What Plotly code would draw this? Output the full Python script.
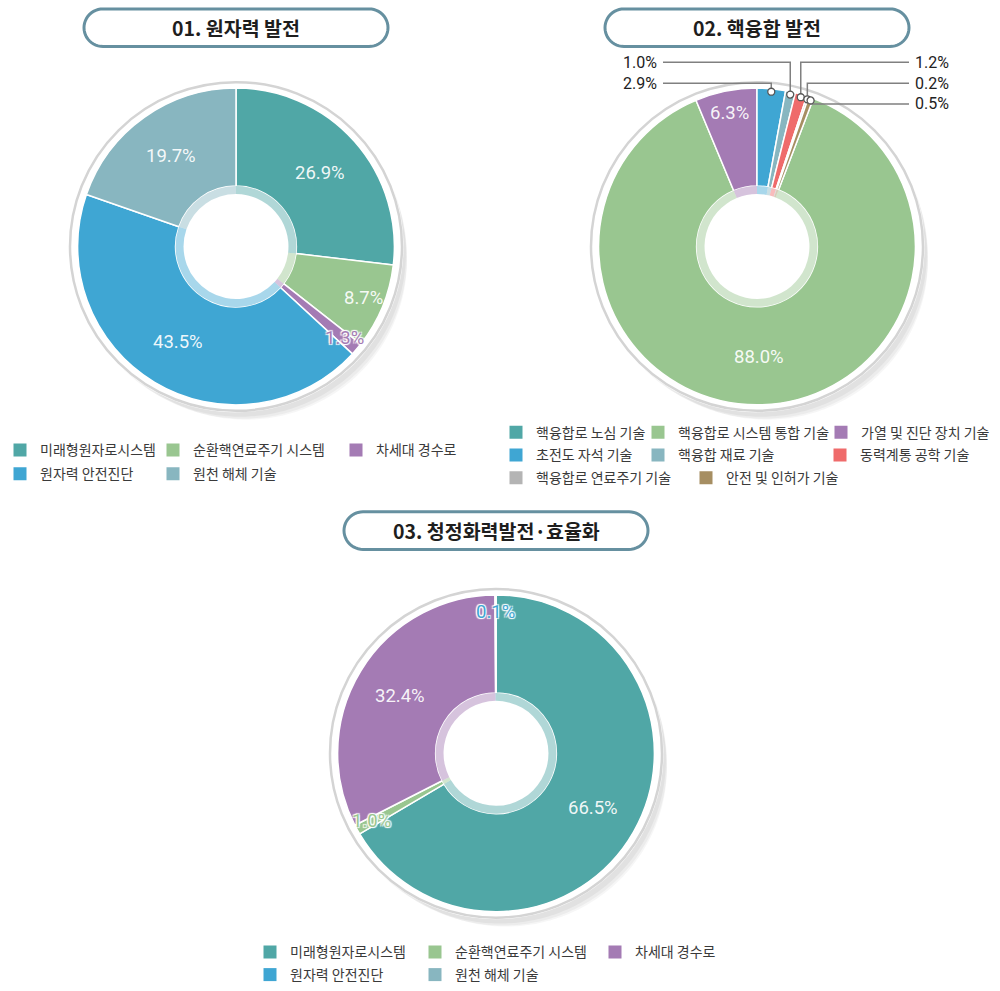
import math

import plotly.graph_objects as go

# ---------------- data ----------------
nuclear_labels = ["미래형원자로시스템", "순환핵연료주기 시스템", "차세대 경수로", "원자력 안전진단", "원천 해체 기술"]
nuclear_share = [26.9, 8.7, 1.3, 43.5, 19.7]

fusion_labels = [
    "핵융합로 노심 기술", "핵융합로 시스템 통합 기술", "가열 및 진단 장치 기술", "초전도 자석 기술",
    "핵융합 재료 기술", "동력계통 공학 기술", "핵융합로 연료주기 기술", "안전 및 인허가 기술",
]
fusion_share = [0.0, 88.0, 6.3, 2.9, 1.0, 1.2, 0.2, 0.5]

thermal_labels = ["미래형원자로시스템", "순환핵연료주기 시스템", "차세대 경수로", "원자력 안전진단", "원천 해체 기술"]
thermal_share = [66.5, 1.0, 32.4, 0.1, 0.0]

titles = ["01. 원자력 발전", "02. 핵융합 발전", "03. 청정화력발전·효율화"]

# ---------------- style ----------------
W, H = 1000, 991
KR = "Noto Sans CJK KR, Noto Sans, sans-serif"
NUM = "Roboto, Liberation Sans, Arial, sans-serif"
PALETTE = ["#50A7A6", "#99C690", "#A47BB4", "#3FA6D3", "#88B6C0", "#EF6B6B", "#B4B4B4", "#A68E62"]
HALO = "1px 1px 1px #fff, -1px -1px 1px #fff, 1px -1px 1px #fff, -1px 1px 1px #fff"

R_OUT, R_RING, R_HOLE, R_FRAME = 160, 61, 53, 166
LEG_TEXT_OFFSET = 42   # legend left edge -> first label text
LEG_Y_SHIFT = 4
LEADER_Y0, LEADER_STEP = 63, 21

charts = [
    dict(title=titles[0], labels=nuclear_labels, values=nuclear_share, cx=236, cy=249, top=None,
         rows=[[0, 1, 2], [3, 4]], row_x=[32, 195, 378], row_y=[451, 475], leaders=False, ty=28),
    dict(title=titles[1], labels=fusion_labels, values=fusion_share, cx=757, cy=249, top="초전도 자석 기술",
         rows=[[0, 1, 2], [3, 4, 5], [6, 7]], row_x=[[538, 680, 863], [538, 680, 862], [538, 728]],
         row_y=[433, 456, 479], leaders=True, ty=28),
    dict(title=titles[2], labels=thermal_labels, values=thermal_share, cx=496, cy=761, top=None,
         rows=[[0, 1, 2], [3, 4]], row_x=[292, 457, 637], row_y=[958, 981], leaders=False, ty=536),
]
LEFT_LEADERS = ["초전도 자석 기술", "핵융합 재료 기술"]


def px(x):
    return x / W


def py(y):
    return 1 - y / H


def dom(cx, cy, r):
    return dict(x=[px(cx - r), px(cx + r)], y=[py(cy + r), py(cy - r)])


def rgba(hex_color, a):
    h = hex_color.lstrip("#")
    return f"rgba({int(h[0:2], 16)},{int(h[2:4], 16)},{int(h[4:6], 16)},{a})"


def polar(cx, cy, r, deg):
    t = math.radians(deg)
    return cx + r * math.sin(t), cy - r * math.cos(t)


def crescent(cx, cy, r1, ox, oy, r2):
    """Area inside the shifted circle but outside the base circle (soft drop shadow)."""
    outer = []
    for k in range(360):
        x, y = polar(cx + ox, cy + oy, r2, k)
        if math.hypot(x - cx, y - cy) > r1:
            outer.append((k, x, y))
    ks = [k for k, _, _ in outer]
    gap = max(range(len(ks)), key=lambda i: (ks[i] - ks[i - 1]) % 360)
    outer = outer[gap:] + outer[:gap]
    a_start = math.degrees(math.atan2(outer[0][1] - cx, -(outer[0][2] - cy)))
    a_end = math.degrees(math.atan2(outer[-1][1] - cx, -(outer[-1][2] - cy)))
    if a_end < a_start:
        a_end += 360
    inner = [polar(cx, cy, r1, a_end - (a_end - a_start) * i / 40) for i in range(41)]
    pts = [(x, y) for _, x, y in outer] + inner
    return "M " + " L ".join(f"{px(x):.5f},{py(y):.5f}" for x, y in pts) + " Z"


fig = go.Figure()
shapes, annos = [], []
legend_no = 0

for ch in charts:
    labels, values, cx, cy = ch["labels"], ch["values"], ch["cx"], ch["cy"]
    colors = PALETTE[: len(labels)]
    total = sum(values)
    rot = 0.0
    if ch["top"]:
        rot = 360 * (1 - sum(values[: labels.index(ch["top"])]) / total)

    fig.add_trace(go.Pie(
        labels=labels, values=values, sort=False, direction="clockwise", rotation=rot,
        hole=R_RING / R_OUT, domain=dom(cx, cy, R_OUT), textinfo="none",
        marker=dict(colors=colors, line=dict(color="white", width=1.5)),
        hovertemplate="%{label}: %{value}%<extra></extra>", showlegend=False,
    ))
    fig.add_trace(go.Pie(
        labels=labels, values=values, sort=False, direction="clockwise", rotation=rot,
        hole=R_HOLE / R_RING, domain=dom(cx, cy, R_RING), textinfo="none",
        marker=dict(colors=[rgba(c, 0.45) for c in colors], line=dict(width=0)),
        hoverinfo="skip", showlegend=False,
    ))

    # soft shadow + outer thin frame
    for ox, oy, dr, a in ((4, 6, 0, 0.045), (7, 10, -2, 0.04), (10, 14, -5, 0.035)):
        shapes.append(dict(type="path", xref="paper", yref="paper", layer="below",
                           path=crescent(cx, cy, R_FRAME + 1.5, ox, oy, R_FRAME + dr),
                           fillcolor=f"rgba(0,0,0,{a})", line=dict(width=0)))
    shapes.append(dict(type="circle", xref="paper", yref="paper", layer="below",
                       x0=px(cx - R_FRAME), x1=px(cx + R_FRAME), y0=py(cy + R_FRAME), y1=py(cy - R_FRAME),
                       line=dict(color="#D4D4D4", width=2.5), fillcolor="rgba(0,0,0,0)"))

    # slice labels
    cum = 0.0
    left_slot, right_slot = [], []
    for lab, v, c in zip(labels, values, colors):
        mid = rot + (cum + v / 2) / total * 360
        cum += v
        if v <= 0:
            continue
        if ch["leaders"] and v < 3:
            dx, dy = polar(cx, cy, R_OUT - 3, mid)
            (left_slot if lab in LEFT_LEADERS else right_slot).append((v, dx, dy))
            continue
        r = 0.7 * R_OUT if v >= 10 else 0.86 * R_OUT
        if v < 2:
            r = 0.89 * R_OUT
        lx, ly = polar(cx, cy, r, mid)
        font = dict(family=NUM, size=18.5, color="rgba(255,255,255,0.93)")
        if v < 2:
            font.update(color=c, shadow=HALO)
        annos.append(dict(x=px(lx), y=py(ly), xref="paper", yref="paper", showarrow=False,
                          xanchor="center", yanchor="middle", text=f"{v:.1f}%", font=font))

    # leader labels (small slices)
    for side, items in (("left", left_slot[::-1]), ("right", right_slot)):
        for k, (v, dx, dy) in enumerate(items):
            ly = LEADER_Y0 + LEADER_STEP * k
            x_end = 663 if side == "left" else 909
            shapes.append(dict(type="path", xref="paper", yref="paper",
                               path=f"M {px(x_end)},{py(ly)} L {px(dx)},{py(ly)} L {px(dx)},{py(dy)}",
                               line=dict(color="#808080", width=1.5)))
            shapes.append(dict(type="circle", xref="paper", yref="paper",
                               x0=px(dx - 3.5), x1=px(dx + 3.5), y0=py(dy + 3.5), y1=py(dy - 3.5),
                               line=dict(color="#555555", width=1.3), fillcolor="white"))
            annos.append(dict(x=px(x_end - 4 if side == "left" else x_end + 4), y=py(ly),
                              xref="paper", yref="paper", yanchor="middle",
                              xanchor="right" if side == "left" else "left", showarrow=False,
                              text=f"{v:.1f}%", font=dict(family=NUM, size=16, color="#222222")))

    # title box
    bw, bh = 304, 38
    r = bh / 2
    pts = []
    for k in range(25):
        t = math.radians(-90 + 180 * k / 24)
        pts.append((cx + bw / 2 - r + r * math.cos(t), ch["ty"] + r * math.sin(t)))
    for k in range(25):
        t = math.radians(90 + 180 * k / 24)
        pts.append((cx - bw / 2 + r + r * math.cos(t), ch["ty"] + r * math.sin(t)))
    path = "M " + " L ".join(f"{px(x):.5f},{py(y):.5f}" for x, y in pts) + " Z"
    shapes.append(dict(type="path", xref="paper", yref="paper", path=path,
                       line=dict(color="#6690A0", width=3), fillcolor="white"))
    annos.append(dict(x=px(cx), y=py(ch["ty"]), xref="paper", yref="paper", showarrow=False,
                      xanchor="center", yanchor="middle",
                      text=f"<b>{ch['title']}</b>", font=dict(family=KR, size=19.5, color="#1E1E1E")))

    # legends: one horizontal legend per row
    for ri, row in enumerate(ch["rows"]):
        legend_no += 1
        lid = "legend" if legend_no == 1 else f"legend{legend_no}"
        xs = ch["row_x"][ri] if isinstance(ch["row_x"][0], list) else ch["row_x"]
        lx = xs[0] - LEG_TEXT_OFFSET
        clamp = max(0, -lx)
        for j, idx in enumerate(row):
            width = xs[j + 1] - xs[j] - 45 if j + 1 < len(row) else 0
            if j == 0 and width:
                width -= clamp
            fig.add_trace(go.Scatter(
                x=[None], y=[None], mode="markers", name=labels[idx], legend=lid,
                legendwidth=width if width > 0 else None,
                marker=dict(symbol="square", size=13, color=colors[idx]),
                hoverinfo="skip",
            ))
        fig.update_layout({lid: dict(
            orientation="h", x=px(max(lx, 0)), xanchor="left",
            y=py(ch["row_y"][ri] + LEG_Y_SHIFT), yanchor="middle",
            bgcolor="rgba(0,0,0,0)", borderwidth=0, tracegroupgap=0, itemclick=False, itemdoubleclick=False,
            font=dict(family=KR, size=14, color="#3A3A3A"),
        )})

fig.update_layout(
    width=W, height=H,
    margin=dict(l=0, r=0, t=0, b=0),
    paper_bgcolor="white", plot_bgcolor="white",
    xaxis=dict(visible=False), yaxis=dict(visible=False),
    shapes=shapes, annotations=annos,
)

fig.write_html("out.html", config={"displayModeBar": False},
               post_script="document.body.style.margin='0px';")
